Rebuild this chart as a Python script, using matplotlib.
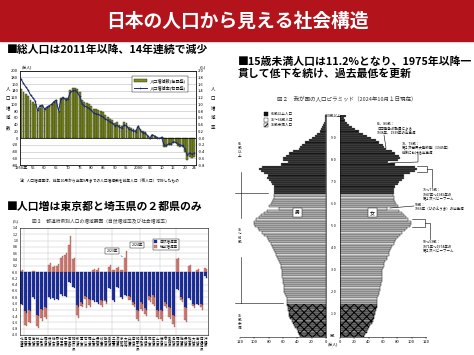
import numpy as np
import matplotlib
matplotlib.use('Agg')
import matplotlib.pyplot as plt
from matplotlib.patches import Rectangle, Patch
from matplotlib.lines import Line2D
import matplotlib.transforms as mtransforms

plt.rcParams['font.family'] = ['Noto Sans CJK JP', 'DejaVu Sans']
plt.rcParams['hatch.linewidth'] = 0.7
plt.rcParams['axes.unicode_minus'] = False

# ---- data: total population change (chart 1) ----
years = list(range(1950, 2025))
pop_change = [145, 136, 130, 124, 113, 108, 100, 84, 90, 95,
              86, 90, 95, 100, 106, 112, 78, 118, 122, 118,
              120, 142, 148, 150, 146, 136, 112, 108, 104, 100,
              94, 86, 85, 83, 79, 76, 68, 64, 58, 55,
              45, 47, 40, 36, 48, 46, 32, 30, 28, 24,
              34, 26, 20, 17, 8, -2, 8, 7, 2, -1,
              2, -26, -28, -22, -21, -14, -16, -23, -26, -28,
              -41, -64, -56, -60, -55]
pop_rate = [1.75, 1.62, 1.52, 1.42, 1.28, 1.20, 1.10, 0.82, 0.96, 0.98,
            0.86, 0.92, 0.96, 1.00, 1.08, 1.12, 0.80, 1.16, 1.20, 1.14,
            1.16, 1.36, 1.40, 1.42, 1.36, 1.24, 1.02, 0.96, 0.92, 0.88,
            0.82, 0.74, 0.72, 0.70, 0.66, 0.63, 0.56, 0.53, 0.48, 0.45,
            0.37, 0.38, 0.32, 0.29, 0.39, 0.37, 0.26, 0.24, 0.22, 0.19,
            0.36, 0.21, 0.16, 0.14, 0.07, -0.01, 0.10, 0.06, 0.00, -0.01,
            0.02, -0.20, -0.22, -0.17, -0.17, -0.11, -0.13, -0.18, -0.21, -0.22,
            -0.32, -0.51, -0.44, -0.48, -0.44]
year_ticks = [1950, 1955, 1960, 1965, 1970, 1975, 1980, 1985, 1990, 1995,
              2000, 2005, 2010, 2015, 2020, 2024]
year_labels = ['1950年', '55', '60', '65', '70', '75', '80', '85', '90', '95',
               '2000', '05', '10', '15', '20', '24']

# ---- data: prefecture change factors (chart 2) ----
prefs = ['北海道', '青森県', '岩手県', '宮城県', '秋田県', '山形県', '福島県',
         '茨城県', '栃木県', '群馬県', '埼玉県', '千葉県', '東京都', '神奈川県',
         '新潟県', '富山県', '石川県', '福井県', '山梨県', '長野県', '岐阜県',
         '静岡県', '愛知県', '三重県', '滋賀県', '京都府', '大阪府', '兵庫県',
         '奈良県', '和歌山県', '鳥取県', '島根県', '岡山県', '広島県', '山口県',
         '徳島県', '香川県', '愛媛県', '高知県', '福岡県', '佐賀県', '長崎県',
         '熊本県', '大分県', '宮崎県', '鹿児島県', '沖縄県']
nat24 = [-1.05, -1.30, -1.25, -0.85, -1.40, -1.22, -1.15, -0.85, -0.88, -0.90,
         -0.75, -0.80, -0.35, -0.50, -1.10, -1.00, -0.80, -0.90, -0.95, -1.00,
         -0.92, -0.95, -0.55, -0.95, -0.50, -0.85, -0.75, -0.80, -1.00, -1.25,
         -1.00, -1.20, -0.80, -0.78, -1.25, -1.25, -1.00, -1.15, -1.40, -0.58,
         -0.85, -1.15, -0.88, -1.05, -1.05, -1.05, -0.18]
soc24 = [0.05, -0.42, -0.38, 0.04, -0.38, -0.32, -0.35, 0.30, 0.20, 0.25,
         0.52, 0.62, 1.15, 0.45, -0.35, -0.10, -0.35, -0.22, 0.10, 0.12,
         -0.20, -0.05, 0.22, 0.08, 0.15, 0.08, 0.67, -0.10, -0.12, -0.30,
         -0.25, -0.20, -0.15, -0.30, -0.25, -0.30, -0.15, -0.35, -0.35, 0.45,
         -0.10, -0.45, 0.24, -0.10, 0.10, -0.15, 0.10]
nat23 = [-1.00, -1.24, -1.20, -0.80, -1.35, -1.17, -1.10, -0.80, -0.83, -0.86,
         -0.70, -0.75, -0.32, -0.46, -1.05, -0.95, -0.76, -0.86, -0.90, -0.95,
         -0.88, -0.90, -0.50, -0.90, -0.46, -0.80, -0.72, -0.76, -0.95, -1.20,
         -0.95, -1.15, -0.76, -0.74, -1.20, -1.20, -0.95, -1.10, -1.35, -0.54,
         -0.80, -1.10, -0.84, -1.00, -1.00, -1.00, -0.14]
soc23 = [0.02, -0.45, -0.40, 0.02, -0.36, -0.30, -0.32, 0.22, 0.15, 0.18,
         0.45, 0.55, 0.85, 0.40, -0.30, -0.12, -0.10, -0.20, 0.05, 0.08,
         -0.18, -0.02, 0.15, 0.05, 0.12, 0.05, 0.45, -0.12, -0.10, -0.28,
         -0.22, -0.18, -0.12, -0.28, -0.22, -0.28, -0.12, -0.32, -0.30, 0.40,
         -0.08, -0.42, 0.20, -0.08, 0.06, -0.12, 0.12]
region_breaks = [0.5, 6.5, 13.5, 22.5, 29.5, 34.5, 38.5]

# ---- data: population pyramid 2024 (万人), ages 0..99, 100+ ----
male_pop = [36, 37, 39, 41, 43, 44, 46, 48, 50, 51,
            51, 52, 53, 53, 54, 54, 54, 55, 56, 57,
            58, 58, 59, 59, 60, 60, 60, 61, 61, 61,
            62, 63, 63, 64, 66, 67, 68, 70, 71, 72,
            74, 75, 77, 79, 81, 83, 86, 90, 93, 95,
            99, 101, 100, 97, 94, 91, 87, 83, 65, 80,
            77, 76, 74, 73, 72, 73, 73, 72, 73, 76,
            77, 79, 82, 81, 86, 91, 93, 89, 63, 53,
            60, 60, 56, 52, 46, 38, 36, 34, 29, 24,
            19, 15, 12, 9, 6.5, 5, 3.5, 2.3, 1.5, 1.0,
            1.2]
female_pop = [34, 35, 37, 39, 41, 42, 44, 46, 47, 48,
              49, 49, 50, 51, 51, 52, 52, 52, 53, 54,
              55, 56, 56, 57, 57, 58, 58, 58, 58, 59,
              59, 60, 61, 62, 63, 65, 66, 68, 69, 70,
              71, 73, 75, 77, 78, 81, 84, 87, 90, 93,
              97, 99, 99, 95, 92, 89, 87, 83, 65, 81,
              78, 77, 76, 75, 74, 75, 76, 76, 77, 81,
              83, 86, 89, 89, 97, 104, 108, 105, 77, 67,
              81, 84, 82, 77, 73, 64, 62, 60, 55, 50,
              43, 38, 32, 27, 21, 17, 13, 9.5, 7, 5,
              8]
age_labels = {0: '0歳', 10: '1 0', 20: '2 0', 30: '3 0', 40: '4 0', 50: '5 0',
              60: '6 0', 70: '7 0', 80: '8 0', 90: '9 0', 100: '100歳以上'}

W, H = 474, 355
fig = plt.figure(figsize=(W / 100, H / 100), dpi=100)


def box(x0, y0, x1, y1):
    return [x0 / W, 1 - y1 / H, (x1 - x0) / W, (y1 - y0) / H]


def ftext(x, y, s, **kw):
    return fig.text(x / W, 1 - y / H, s, **kw)


def fline(xs, ys, lw=0.4, color='k'):
    fig.add_artist(Line2D([x / W for x in xs], [1 - y / H for y in ys],
                          transform=fig.transFigure, lw=lw, color=color))


# banner
fig.patches.append(Rectangle((0, 1 - 41 / H), 1, 41 / H, transform=fig.transFigure,
                             color='#b3141c', zorder=0))
ftext(237, 21, '日本の人口から見える社会構造', color='white', fontsize=13.5,
      fontweight='bold', ha='center', va='center')

ftext(7, 50, '■総人口は2011年以降、14年連続で減少', fontsize=7.8,
      fontweight='bold', va='center')
ftext(7, 207, '■人口増は東京都と埼玉県の２都県のみ', fontsize=7.8,
      fontweight='bold', va='center')
ftext(238, 61.5, '■15歳未満人口は11.2%となり、1975年以降一', fontsize=7.8,
      fontweight='bold', va='center')
ftext(238, 73.5, '貫して低下を続け、過去最低を更新', fontsize=7.8,
      fontweight='bold', va='center')

# ---------------- chart 1 ----------------
tk = dict(labelsize=3, length=0, pad=1)
ax1 = fig.add_axes(box(19.5, 70.7, 196, 165))
ax1.bar(years, pop_change, width=0.8, color='#7f8e27', edgecolor='#262b07', lw=0.3, zorder=2)
ax1.set_xlim(1949.3, 2024.7)
ax1.set_ylim(-80, 200)
ax1.set_yticks(range(-80, 201, 20))
ax1.grid(axis='y', color='#bdbdbd', lw=0.4)
ax1.set_axisbelow(True)
ax1.axhline(0, color='k', lw=0.5, zorder=3)
ax1.set_xticks(year_ticks)
ax1.set_xticklabels(year_labels)
ax1.tick_params(**tk)
for s in ax1.spines.values():
    s.set_linewidth(0.4)
ax1r = ax1.twinx()
ax1r.plot(years, pop_rate, color='#1d2a70', lw=0.75, marker='+', ms=1.8, mew=0.4, zorder=4)
ax1r.set_ylim(-0.8, 2.0)
rt = np.round(np.arange(-0.8, 2.01, 0.2), 1)
ax1r.set_yticks(rt)
ax1r.set_yticklabels([f'{v:.1f}' for v in rt])
ax1r.tick_params(**tk)
for s in ax1r.spines.values():
    s.set_linewidth(0.4)
ax1r.legend(handles=[Patch(facecolor='#7f8e27', edgecolor='#262b07', lw=0.3),
                     Line2D([], [], color='#1d2a70', lw=0.7, marker='+', ms=1.8, mew=0.4)],
            labels=['人口増減数(左目盛)', '人口増減率(右目盛)'], fontsize=3,
            loc='upper left', bbox_to_anchor=(130 / W, 1 - 74 / H), bbox_transform=fig.transFigure,
            fancybox=False, edgecolor='k', framealpha=1, borderpad=0.5, labelspacing=0.6,
            handlelength=3, handleheight=0.6).get_frame().set_linewidth(0.3)
ftext(22, 67, '(万人)', fontsize=2.8, va='center')
ftext(200, 67, '(%)', fontsize=2.8, va='center')
ftext(8, 108, '人\n口\n増\n減\n数', fontsize=3.2, ha='center', va='center', linespacing=2.2)
ftext(213, 108, '人\n口\n増\n減\n率', fontsize=3.2, ha='center', va='center', linespacing=2.2)
ftext(20, 181, '注）人口増減率は、前年10月から当年9月までの人口増減数を前年人口（総人口）で除したもの',
      fontsize=2.7, va='center')

# ---------------- chart 2 ----------------
ax2 = fig.add_axes(box(19.5, 228, 208, 335))
xp = np.arange(len(prefs))
for off, nat, soc in [(-0.2, nat23, soc23), (0.2, nat24, soc24)]:
    nat = np.array(nat)
    soc = np.array(soc)
    ax2.bar(xp + off, nat, width=0.4, color='#2034a8', edgecolor='#0c1458', lw=0.2, zorder=2)
    ax2.bar(xp + off, soc, bottom=np.where(soc >= 0, 0, nat), width=0.4,
            color='#d98a80', edgecolor='#8a3a30', lw=0.2, zorder=2)
ax2.set_xlim(-0.6, len(prefs) - 0.4)
ax2.set_ylim(-2.0, 1.4)
yt2 = np.round(np.arange(-2.0, 1.41, 0.2), 1)
ax2.set_yticks(yt2)
ax2.set_yticklabels([f'{v:.1f}' for v in yt2])
ax2.grid(axis='y', color='#c8c8c8', lw=0.35)
for b in region_breaks:
    ax2.axvline(b, color='#c8c8c8', lw=0.35, zorder=1)
ax2.set_axisbelow(True)
ax2.set_xticks(xp)
ax2.set_xticklabels(['\n'.join(p) for p in prefs], fontsize=2.5, linespacing=0.95, va='top')
ax2.tick_params(axis='y', labelsize=2.6, length=0, pad=1)
ax2.tick_params(axis='x', length=0, pad=1.2)
for s in ax2.spines.values():
    s.set_linewidth(0.4)
ax2.legend(handles=[Patch(facecolor='#2034a8', edgecolor='#0c1458', lw=0.2),
                    Patch(facecolor='#d98a80', edgecolor='#8a3a30', lw=0.2)],
           labels=['自然増減率', '社会増減率'], fontsize=2.6, loc='upper left',
           bbox_to_anchor=(151 / W, 1 - 237 / H), bbox_transform=fig.transFigure,
           fancybox=False, edgecolor='k', framealpha=1, borderpad=0.3, labelspacing=0.2,
           handlelength=0.8, handleheight=0.7).get_frame().set_linewidth(0.3)
osaka = prefs.index('大阪府')
bb = dict(boxstyle='square,pad=0.3', fc='white', ec='k', lw=0.3)
ax2.annotate('2023年', xy=(osaka - 0.2, soc23[osaka]), xytext=(22.6, 0.66), fontsize=2.6,
             ha='center', va='center', bbox=bb, arrowprops=dict(arrowstyle='-', lw=0.3))
ax2.annotate('2024年', xy=(osaka + 0.2, soc24[osaka]), xytext=(28.9, 0.86), fontsize=2.6,
             ha='center', va='center', bbox=bb, arrowprops=dict(arrowstyle='-', lw=0.3))
ftext(13, 221, '(%)', fontsize=2.6, va='center')
ftext(101, 222, '図３　都道府県別人口の増減要因（自然増減率及び社会増減率）', fontsize=3.4,
      ha='center', va='center', color='#333333')

# ---------------- chart 3: pyramid ----------------
ages = np.arange(len(male_pop))
young = ages < 15
work = (ages >= 15) & (ages < 65)
old = ages >= 65
styles = [(young, dict(color='#8c8c8c', edgecolor='black', hatch='xxxx', lw=0.35)),
          (work, dict(color='#d6d6d6', edgecolor='#222222', lw=0.35)),
          (old, dict(color='#161616', edgecolor='#8a8a8a', lw=0.25))]
axL = fig.add_axes(box(240, 115, 326, 337))
axR = fig.add_axes(box(340, 115, 426, 337))
for ax, vals in [(axL, np.array(male_pop)), (axR, np.array(female_pop))]:
    for mask, st in styles:
        ax.barh(ages[mask], vals[mask], height=1.0, **st)
    ax.set_ylim(-0.5, len(ages) - 0.5)
    ax.set_xticks(range(0, 121, 20))
    ax.tick_params(axis='x', labelsize=3, length=1.2, width=0.3, pad=1)
    ax.set_yticks([])
    ax.patch.set_alpha(0)
    for s in ax.spines.values():
        s.set_linewidth(0.4)
    ax.spines['top'].set_visible(False)
axL.set_xlim(120, 0)
axR.set_xlim(0, 120)
axL.spines['left'].set_visible(False)
axR.spines['right'].set_visible(False)

blend = mtransforms.blended_transform_factory(fig.transFigure, axL.transData)
for a, lab in age_labels.items():
    fig.text(333 / W, a, lab, transform=blend, fontsize=2.6, ha='center', va='center')
ftext(333, 344, '(万人)', fontsize=2.8, ha='center', va='center')
ftext(347, 99, '図２　我が国の人口ピラミッド（2024年10月１日現在）', fontsize=4,
      ha='center', va='center', color='#333333')
axL.text(40, 56, '男', fontsize=3.5, ha='center', va='center',
         bbox=dict(boxstyle='square,pad=0.4', fc='white', ec='k', lw=0.3))
axR.text(45, 56, '女', fontsize=3.5, ha='center', va='center',
         bbox=dict(boxstyle='square,pad=0.4', fc='white', ec='k', lw=0.3))

# pyramid legend
leg_items = [('65歳以上人口', dict(facecolor='#161616', edgecolor='k')),
             ('15～64歳人口', dict(facecolor='white', edgecolor='k')),
             ('15歳未満人口', dict(facecolor='white', edgecolor='k', hatch='////'))]
for i, (lab, st) in enumerate(leg_items):
    yy = 114 + 5.5 * i
    fig.patches.append(Rectangle((264 / W, 1 - (yy + 2) / H), 4 / W, 4 / H,
                                 transform=fig.transFigure, lw=0.3, **st))
    ftext(271, yy, lab, fontsize=2.6, va='center')

# left bracket labels
ftext(240, 150, '65\n歳\n以\n上', fontsize=2.6, ha='center', va='center', linespacing=1.1)
ftext(240, 236, '15\n～\n64\n歳', fontsize=2.6, ha='center', va='center', linespacing=1.1)
ftext(240, 322, '15\n歳\n未\n満', fontsize=2.6, ha='center', va='center', linespacing=1.1)
fline([241, 241], [172, 218])
fline([235, 268], [193, 193])
fline([241, 241], [257, 303])
fline([235, 283], [303, 303])

# female side annotations
ann = dict(fontsize=2.5, va='top', ha='left', linespacing=1.2)
ftext(377, 122, '85、86歳：\n日中戦争の動員による\n1938年、1939年の出生減', **ann)
fline([384, 386], [135, 148])
ftext(402, 142, '78、79歳：\n第２次世界大戦終戦（1945年）\n前後における出生減', **ann)
fline([418, 418, 390], [152, 162, 163])
ftext(423, 188, '75～77歳：\n1947年～1949年の\n第１次ベビーブーム', **ann)
fline([417, 427, 427, 417], [166, 166, 172, 172])
fline([427, 432, 432], [169, 169, 187])
ftext(415, 203, '58歳：\n1966年（ひのえうま）の出生減', **ann)
fline([390, 414], [208, 206])
ftext(423, 240, '50～53歳：\n1971年～1974年の\n第２次ベビーブーム', **ann)
fline([412, 425, 425, 412], [219, 219, 227, 227])
fline([425, 430, 430], [223, 223, 239])

fig.savefig('out.png', dpi=100)
